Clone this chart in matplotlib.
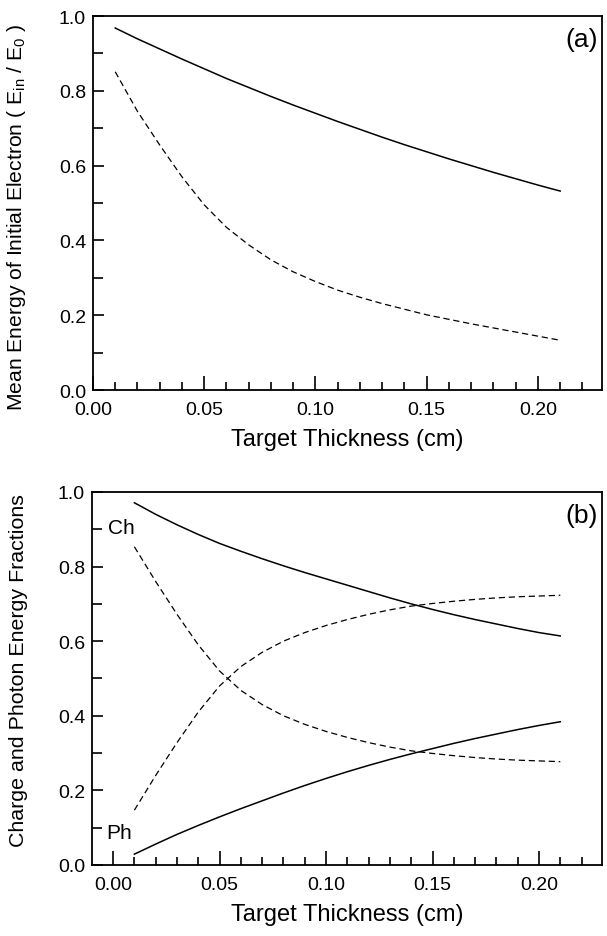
import numpy as np
import matplotlib.pyplot as plt
from matplotlib.ticker import MultipleLocator, FormatStrFormatter

plt.rcParams['font.family'] = ['Liberation Sans', 'DejaVu Sans']
plt.rcParams['mathtext.fontset'] = 'custom'
plt.rcParams['mathtext.rm'] = 'Liberation Sans'
plt.rcParams['mathtext.it'] = 'Liberation Sans'

# target thickness (cm)
thickness = [0.01, 0.02, 0.03, 0.04, 0.05, 0.06, 0.07, 0.08, 0.09, 0.10, 0.11,
             0.12, 0.13, 0.14, 0.15, 0.16, 0.17, 0.18, 0.19, 0.20, 0.21]

# panel (a): mean energy of initial electron, Ein/E0
mean_energy_solid = [0.968, 0.939, 0.912, 0.885, 0.859, 0.833, 0.809, 0.785, 0.762, 0.740, 0.718,
                     0.697, 0.676, 0.656, 0.637, 0.618, 0.600, 0.582, 0.565, 0.548, 0.532]
mean_energy_dashed = [0.851, 0.745, 0.655, 0.570, 0.495, 0.435, 0.388, 0.348, 0.316, 0.290, 0.267,
                      0.248, 0.231, 0.216, 0.201, 0.189, 0.177, 0.166, 0.155, 0.144, 0.133]

# panel (b): charge (Ch) and photon (Ph) energy fractions
charge_solid = [0.971, 0.940, 0.912, 0.886, 0.862, 0.841, 0.821, 0.802, 0.784, 0.767, 0.750,
                0.733, 0.716, 0.700, 0.685, 0.671, 0.658, 0.646, 0.634, 0.623, 0.614]
photon_solid = [0.029, 0.056, 0.082, 0.106, 0.129, 0.151, 0.172, 0.193, 0.213, 0.232, 0.250,
                0.267, 0.283, 0.298, 0.312, 0.326, 0.339, 0.351, 0.363, 0.374, 0.384]
charge_dashed = [0.853, 0.760, 0.672, 0.590, 0.520, 0.468, 0.430, 0.400, 0.377, 0.358, 0.342,
                 0.328, 0.316, 0.306, 0.299, 0.293, 0.288, 0.284, 0.281, 0.279, 0.277]
photon_dashed = [0.147, 0.240, 0.328, 0.410, 0.480, 0.532, 0.570, 0.600, 0.623, 0.642, 0.658,
                 0.672, 0.684, 0.694, 0.701, 0.707, 0.712, 0.716, 0.719, 0.721, 0.723]

x_ticks = [0.00, 0.05, 0.10, 0.15, 0.20]
y_ticks = [0.0, 0.2, 0.4, 0.6, 0.8, 1.0]

DASH = (0, (5, 3))


def style_axes(ax, xlim):
    ax.set_xlim(*xlim)
    ax.set_ylim(0, 1.0)
    ax.set_xticks(x_ticks)
    ax.set_yticks(y_ticks)
    ax.xaxis.set_minor_locator(MultipleLocator(0.01))
    ax.yaxis.set_minor_locator(MultipleLocator(0.1))
    ax.xaxis.set_major_formatter(FormatStrFormatter('%.2f'))
    ax.yaxis.set_major_formatter(FormatStrFormatter('%.1f'))
    ax.tick_params(which='both', direction='in', labelsize=14, width=1.2)
    ax.tick_params(which='major', axis='x', length=10, pad=8)
    ax.tick_params(which='minor', axis='x', length=6)
    ax.tick_params(which='major', axis='y', length=8, pad=5)
    ax.tick_params(which='minor', axis='y', length=7)
    for s in ax.spines.values():
        s.set_linewidth(1.3)
    ax.set_xlabel('Target Thickness (cm)', fontsize=17, labelpad=7)


fig = plt.figure(figsize=(6.07, 9.37), dpi=100)

# (a)
ax1 = fig.add_axes([0.1532, 0.5827, 0.8386, 0.3991])
ax1.plot(thickness, mean_energy_solid, color='black', lw=1.1)
ax1.plot(thickness, mean_energy_dashed, color='black', lw=0.9, linestyle=DASH)
style_axes(ax1, (0.0, 0.2288))
ax1.set_ylabel(r'Mean Energy of Initial Electron ( E$_{\mathrm{in}}$ / E$_0$ )', fontsize=15.2)
ax1.yaxis.set_label_coords(-0.128, 0.464)
ax1.text(0.992, 0.938, '(a)', transform=ax1.transAxes, fontsize=19, ha='right', va='center')

# (b)
ax2 = fig.add_axes([0.1516, 0.0758, 0.8402, 0.3981])
ax2.plot(thickness, charge_solid, color='black', lw=1.1)
ax2.plot(thickness, photon_solid, color='black', lw=1.1)
ax2.plot(thickness, charge_dashed, color='black', lw=0.9, linestyle=DASH)
ax2.plot(thickness, photon_dashed, color='black', lw=0.9, linestyle=DASH)
style_axes(ax2, (-0.0099, 0.2296))
ax2.set_ylabel('Charge and Photon Energy Fractions', fontsize=15.4)
ax2.yaxis.set_label_coords(-0.125, 0.525)
ax2.text(0.992, 0.938, '(b)', transform=ax2.transAxes, fontsize=19, ha='right', va='center')
ax2.text(-0.0023, 0.906, 'Ch', fontsize=15, ha='left', va='center')
ax2.text(-0.003, 0.088, 'Ph', fontsize=15, ha='left', va='center')

fig.savefig('out.png', dpi=100)
